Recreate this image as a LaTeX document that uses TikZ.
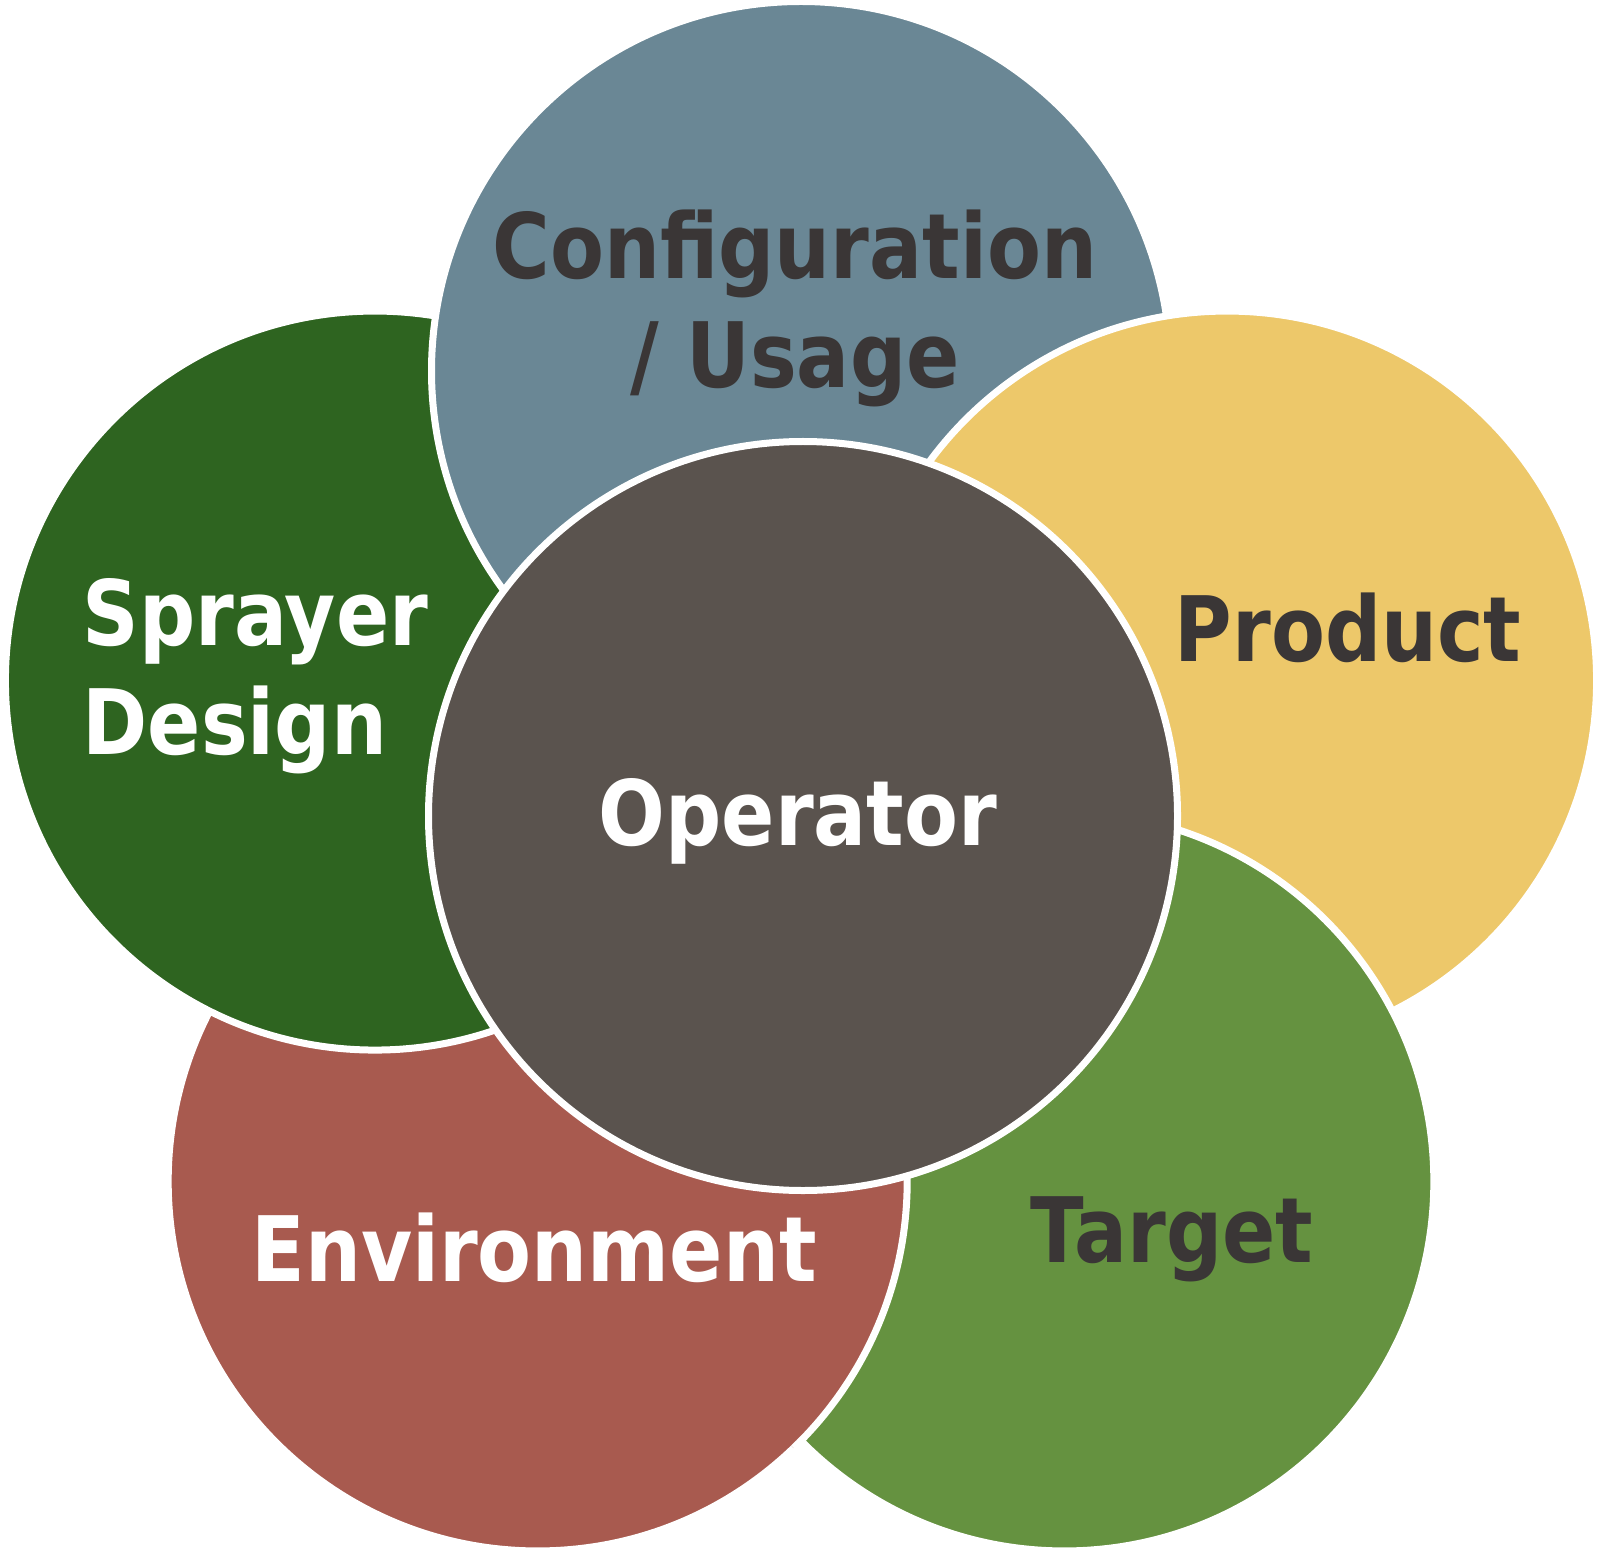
\documentclass[tikz,border=0pt]{standalone}
\usepackage{fontspec}
\newfontfamily\petalfont{DejaVu Sans}[FakeStretch=0.87]
\usepackage{tikz}
\usetikzlibrary{calc}
\definecolor{ConfigBlue}{HTML}{6A8795}
\definecolor{ProductYellow}{HTML}{EDC86A}
\definecolor{TargetGreen}{HTML}{659240}
\definecolor{EnvRed}{HTML}{A85A4F}
\definecolor{SprayerGreen}{HTML}{2E6420}
\definecolor{OperatorGrey}{HTML}{5A534E}
\definecolor{TextDark}{HTML}{3A3636}

\begin{document}
\begin{tikzpicture}[
    petal/.style={circle, draw=white, line width=0.07cm, minimum size=7.39cm, inner sep=0pt},
    petaltext/.style={font=\petalfont\bfseries\fontsize{25.7pt}{31.2pt}\selectfont, inner sep=0pt, anchor=base}
  ]
        \useasboundingbox (0,0) rectangle (16,15.58);
        \coordinate (ctr) at (8.01,7.39);

        % the ring, drawn round the cycle
        \node[petal, fill=EnvRed] (env) at ($(ctr)+(-126:4.48)$) {};
        \node[petal, fill=SprayerGreen] (sprayer) at ($(ctr)+(162:4.48)$) {};
        \node[petal, fill=ConfigBlue] (config) at ($(ctr)+(90:4.48)$) {};
        \node[petal, fill=ProductYellow] (product) at ($(ctr)+(18:4.48)$) {};
        \node[petal, fill=TargetGreen] (target) at ($(ctr)+(-54:4.48)$) {};
        % close the cycle: environment over target
        \begin{scope}
            \clip (target.center) circle (3.8);
            \draw[white, line width=0.07cm, fill=EnvRed] (env.center) circle (3.695);
        \end{scope}

        \node[petal, fill=OperatorGrey, minimum size=7.49cm] (operator) at (8.03,7.42) {};

        % multi-line labels sit on their last baseline
        \node[petaltext, TextDark, align=center] (config-txt) at (7.95,11.70) {Configuration\\/ Usage};
        \node[petaltext, white, align=left, anchor=base west] (sprayer-txt) at (0.82,8.03) {Sprayer\\Design};
        \node[petaltext, TextDark] (product-txt) at (13.48,8.96) {Product};
        \node[petaltext, TextDark] (target-txt) at (11.72,2.96) {Target};
        \node[petaltext, white] (env-txt) at (5.34,2.77) {Environment};
        \node[petaltext, white] (operator-txt) at (7.98,7.13) {Operator};
\end{tikzpicture}
\end{document}
